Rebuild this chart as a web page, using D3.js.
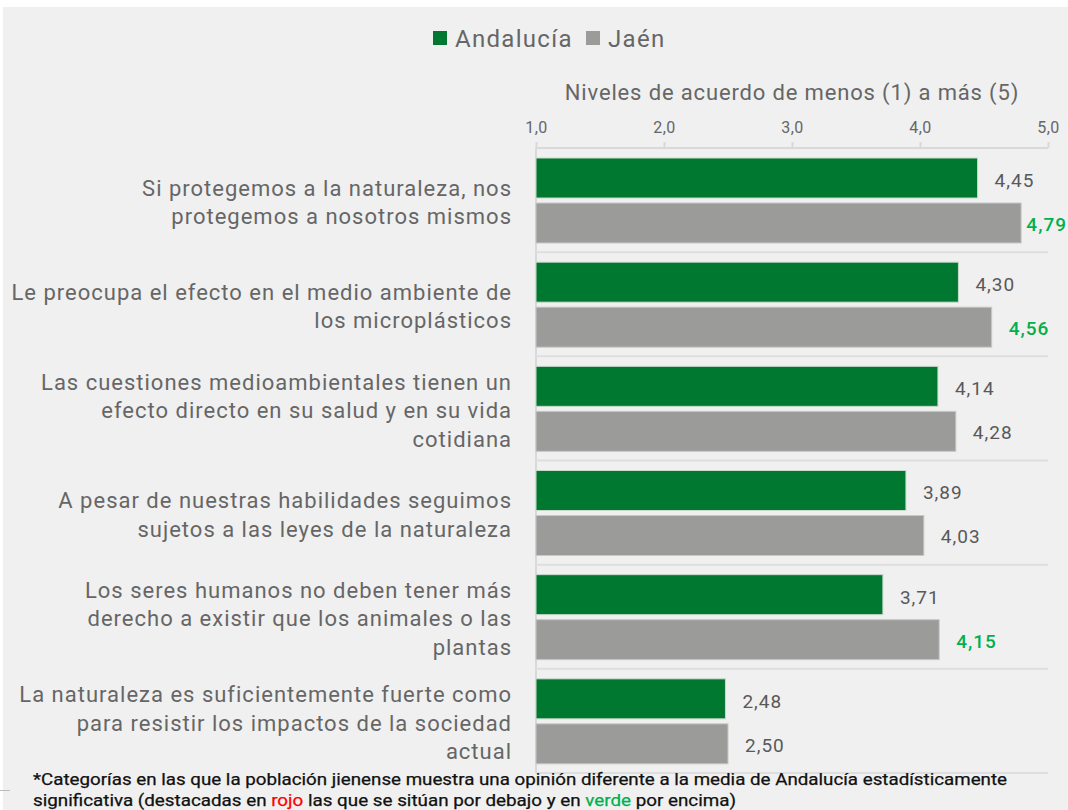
<!DOCTYPE html>
<html><head><meta charset="utf-8">
<script src="https://cdn.jsdelivr.net/npm/d3@7"></script>
<style>
html,body{margin:0;padding:0;background:#fff;}
svg{display:block;font-family:Roboto,"Noto Sans",sans-serif;}
</style></head>
<body>
<script>
const categories = [
  ["Si protegemos a la naturaleza, nos","protegemos a nosotros mismos"],
  ["Le preocupa el efecto en el medio ambiente de","los microplásticos"],
  ["Las cuestiones medioambientales tienen un","efecto directo en su salud y en su vida","cotidiana"],
  ["A pesar de nuestras habilidades seguimos","sujetos a las leyes de la naturaleza"],
  ["Los seres humanos no deben tener más","derecho a existir que los animales o las","plantas"],
  ["La naturaleza es suficientemente fuerte como","para resistir los impactos de la sociedad","actual"]
];
const andalucia = [4.45, 4.30, 4.14, 3.89, 3.71, 2.48];
const jaen = [4.79, 4.56, 4.28, 4.03, 4.15, 2.50];
const jaenHighlight = ["verde","verde","","","verde",""];
const tickValues = [1,2,3,4,5];
const seriesNames = ["Andalucía","Jaén"];

const W=1068,H=810;
const colors = {Andalucía:"#00782f", Jaén:"#9b9b9a"};
const svg = d3.select("body").append("svg").attr("width",W).attr("height",H);
svg.append("rect").attr("x",3).attr("y",7).attr("width",W-3).attr("height",H-7).attr("fill","#f0f0f0");
svg.append("line").attr("x1",0).attr("x2",10).attr("y1",790.5).attr("y2",790.5).attr("stroke","#bbb");

const x = d3.scaleLinear().domain([1,5]).range([536,1048]);
const y = d3.scaleBand().domain(d3.range(categories.length)).range([148,773]);
const fmt = v => d3.format(".2f")(v).replace(".",",");
const textCol = "#666";

// axis
const axis = d3.axisTop(x).tickValues(tickValues).tickFormat(d=>d3.format(".1f")(d).replace(".",",")).tickSize(6).tickPadding(9);
const ax = svg.append("g").attr("transform","translate(0,148)").call(axis);
ax.select(".domain").attr("stroke","#d9d9d9").attr("stroke-width",2).attr("d","M536,0H1048");
ax.selectAll(".tick line").attr("stroke","#d9d9d9").attr("stroke-width",2);
ax.selectAll(".tick text").attr("fill",textCol).attr("font-size",16).attr("letter-spacing",0.4).attr("font-family","Roboto");
svg.append("text").attr("x",792).attr("y",100).attr("text-anchor","middle").attr("fill",textCol)
  .attr("font-size",22).attr("letter-spacing",0.85).text("Niveles de acuerdo de menos (1) a más (5)");

// vertical line
svg.append("line").attr("x1",536).attr("x2",536).attr("y1",148).attr("y2",773).attr("stroke","#d9d9d9").attr("stroke-width",2);
// separators
svg.selectAll("line.sep").data(d3.range(1,categories.length+1)).join("line").attr("class","sep")
  .attr("x1",536).attr("x2",1048).attr("y1",d=>y(d)||773).attr("y2",d=>y(d)||773)
  .attr("stroke","#dedede").attr("stroke-width",2);

const bh=40, off1=10, off2=55;
const g = svg.append("g");
g.selectAll("rect.a").data(andalucia).join("rect").attr("class","a")
  .attr("x",x(1)).attr("y",(d,i)=>y(i)+off1).attr("width",d=>x(d)-x(1)).attr("height",bh)
  .attr("fill",colors["Andalucía"]).attr("stroke","#c9d9cc").attr("stroke-width",1);
g.selectAll("rect.j").data(jaen).join("rect").attr("class","j")
  .attr("x",x(1)).attr("y",(d,i)=>y(i)+off2).attr("width",d=>x(d)-x(1)).attr("height",bh)
  .attr("fill",colors["Jaén"]).attr("stroke","#c8c8c8").attr("stroke-width",1);

function placeVal(sel){
  sel.each(function(d){
    const w = this.getComputedTextLength();
    const xx = Math.min(x(d)+17, W-1-w);
    d3.select(this).attr("x",xx);
  });
}
g.selectAll("text.va").data(andalucia).join("text").attr("class","va")
  .attr("y",(d,i)=>y(i)+off1+bh/2+2).attr("dy","0.36em")
  .attr("font-size",19).attr("fill","#595959").attr("letter-spacing",1).text(fmt).call(placeVal);
g.selectAll("text.vj").data(jaen).join("text").attr("class","vj")
  .attr("y",(d,i)=>y(i)+off2+bh/2+1).attr("dy","0.36em")
  .attr("font-size",19).attr("letter-spacing",1)
  .attr("font-weight",(d,i)=>jaenHighlight[i]?500:400)
  .attr("fill",(d,i)=>jaenHighlight[i]==="verde"?"#00b050":(jaenHighlight[i]==="rojo"?"#ff0000":"#595959")).text(fmt).call(placeVal);

// category labels
const lh=28.5;
categories.forEach((lines,i)=>{
  const cy = y(i)+y.bandwidth()/2+2;
  const t = svg.append("text").attr("text-anchor","end").attr("fill",textCol).attr("font-size",22).attr("letter-spacing",1.0);
  lines.forEach((l,k)=>{
    t.append("tspan").attr("x",512).attr("y",cy+(k-(lines.length-1)/2)*lh).attr("dy","0.35em").text(l);
  });
});

// legend
const leg = svg.append("g");
[[433,"Andalucía",455],[586,"Jaén",608]].forEach(([sx,name,tx])=>{
  leg.append("rect").attr("x",sx).attr("y",31).attr("width",14).attr("height",14).attr("fill",colors[name]);
  leg.append("text").attr("x",tx).attr("y",38).attr("dy","0.36em").attr("font-size",24).attr("fill",textCol).attr("letter-spacing",1.3).text(name);
});

// footnote
const fn = svg.append("g").attr("font-size",16).attr("fill","#111").attr("font-weight",400).attr("stroke","#111").attr("stroke-width",0.25);
fn.append("text").attr("x",33).attr("y",785).attr("textLength",974).attr("lengthAdjust","spacingAndGlyphs")
  .text("*Categorías en las que la población jienense muestra una opinión diferente a la media de Andalucía estadísticamente");
const t2 = fn.append("text").attr("x",33).attr("y",806).attr("textLength",703).attr("lengthAdjust","spacingAndGlyphs");
t2.append("tspan").text("significativa (destacadas en ");
t2.append("tspan").attr("fill","#ff0000").attr("stroke","#ff0000").text("rojo");
t2.append("tspan").text(" las que se sitúan por debajo y en ");
t2.append("tspan").attr("fill","#00b050").attr("stroke","#00b050").text("verde");
t2.append("tspan").text(" por encima)");
</script>
</body></html>
